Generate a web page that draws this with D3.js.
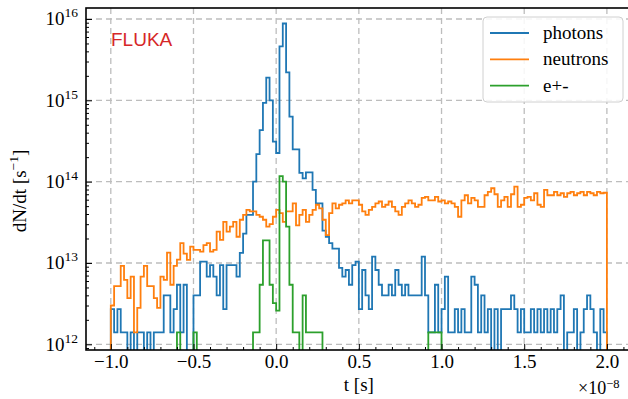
<!DOCTYPE html>
<html>
<head>
<meta charset="utf-8">
<script src="https://cdn.jsdelivr.net/npm/d3@7"></script>
<style>
  body { margin: 0; background: #fff; }
  svg { display: block; }
  .tick text { font-family: "Liberation Serif", "Times New Roman", serif; font-size: 19px; fill: #000; }
</style>
</head>
<body>
<div id="chart"></div>
<script>
// histogram binning (t in units of 1e-8 s)
const tStart = -1.0;
const binWidth = 0.02;

// dN/dt per bin, in units of 1e12 s^-1 (0 = empty bin)
const photons = [
  2.7, 1.4, 2.7, 1.4, 1.4, 0, 1.4, 0, 1.4, 1.4,
  0, 1.4, 0, 1.4, 1.4, 1.4, 4.0, 4.0, 1.4, 2.7,
  5.4, 1.4, 5.4, 0, 0, 4.0, 4.0, 10.4, 10.4, 6.8,
  9.4, 6.8, 4.0, 9.4, 2.7, 9.4, 9.4, 9.4, 6.8, 13.3,
  23, 39, 39, 100, 218, 430, 930, 1900, 1000, 310,
  225, 4600, 8800, 2200, 630, 250, 250, 128, 110, 130,
  130, 79, 54, 54, 25, 21, 17.5, 15, 15, 8.7,
  6.8, 8.2, 5.4, 9.4, 10.4, 2.7, 8.2, 4.0, 2.7, 12,
  8.2, 5.4, 4.0, 4.0, 5.4, 4.0, 8.2, 5.4, 4.0, 5.4,
  4.0, 4.0, 4.0, 4.0, 12, 4.0, 1.4, 1.4, 5.4, 1.4,
  2.7, 6.8, 1.4, 1.4, 2.7, 1.4, 2.7, 1.4, 1.4, 6.8,
  5.4, 1.4, 4.0, 1.4, 2.7, 0, 2.7, 0, 2.7, 2.7,
  2.7, 4.0, 2.7, 1.4, 2.7, 1.4, 1.4, 2.7, 1.4, 2.7,
  1.4, 2.7, 1.4, 2.7, 1.4, 2.7, 4.0, 0, 1.4, 1.4,
  2.7, 0, 1.4, 2.7, 4.0, 2.7, 1.4, 0, 2.7, 1.4
];

const neutrons = [
  3.0, 5.2, 5.2, 9.2, 6.2, 3.7, 6.8, 1.4, 2.8, 6.8,
  9.2, 5.2, 5.2, 3.7, 2.8, 6.8, 6.2, 13.4, 5.4, 9.2,
  11, 17.5, 13, 10.9, 15.9, 14.5, 14.5, 13.8, 16.6, 17.5,
  13.8, 14.5, 24.3, 19.2, 32, 24.3, 28, 32, 21, 34,
  39, 45, 43, 43, 39, 37, 34, 28, 30, 37,
  45, 41, 32, 43, 43, 54, 29, 39, 45, 32,
  39, 45, 52, 47, 34, 22, 41, 54, 47, 52,
  54, 59, 54, 59, 59, 52, 43, 39, 45, 49,
  54, 57, 49, 52, 57, 49, 43, 39, 49, 54,
  59, 54, 49, 52, 63, 65, 59, 59, 65, 57,
  59, 54, 57, 54, 49, 37, 59, 68, 54, 63,
  59, 49, 49, 68, 75, 83, 70, 49, 59, 65,
  49, 70, 87, 49, 52, 63, 65, 59, 72, 52,
  49, 79, 68, 68, 75, 68, 72, 65, 72, 75,
  68, 72, 75, 68, 75, 72, 68, 75, 72, 73
];

const electrons = [
  0, 0, 0, 0, 0, 0, 0, 0, 0, 0,
  0, 0, 0, 0, 0, 0, 0, 0, 0, 0,
  1.4, 0, 0, 0, 0, 1.4, 0, 0, 0, 0,
  0, 0, 0, 0, 0, 0, 0, 0, 0, 0,
  0, 0, 0, 1.4, 1.4, 5.4, 19, 19, 5.4, 3.2,
  2.6, 117, 100, 28, 5.4, 1.4, 1.4, 0, 4.0, 1.4,
  1.4, 1.4, 1.4, 1.4, 0, 0, 0, 0, 0, 0,
  0, 0, 0, 0, 0, 0, 0, 0, 0, 0,
  0, 0, 0, 0, 0, 0, 0, 0, 0, 0,
  0, 0, 0, 0, 0, 0, 1.4, 1.4, 1.4, 1.4,
  0, 0, 0, 0, 0, 0, 0, 0, 0, 0,
  0, 0, 0, 0, 0, 0, 0, 0, 0, 0,
  0, 0, 0, 0, 0, 0, 0, 0, 0, 0,
  0, 0, 0, 0, 0, 0, 0, 0, 0, 0,
  0, 0, 0, 0, 0, 0, 0, 0, 0, 0
];

const seriesNames = ["photons", "neutrons", "e+-"];
const seriesColors = ["#1f77b4", "#ff7f0e", "#2ca02c"];
const xTicks = [-1.0, -0.5, 0.0, 0.5, 1.0, 1.5, 2.0];
const yTicks = [1e12, 1e13, 1e14, 1e15, 1e16];
const unit = 1e12;

const margin = {top: 8, left: 86};
const width = 545.7;
const height = 342;
const serif = "'Liberation Serif', 'Times New Roman', serif";

const svg = d3.select("#chart")
  .append("svg")
  .attr("width", 628)
  .attr("height", 399)
  .append("g")
  .attr("transform", `translate(${margin.left}, ${margin.top})`);

const x = d3.scaleLinear()
  .domain([-1.15, 2.15])
  .range([0, width]);

const y = d3.scaleLog()
  .domain([Math.pow(10, 11.93), Math.pow(10, 16.135)])
  .range([height, 0]);

svg.append("defs").append("clipPath")
  .attr("id", "plot-area")
  .append("rect")
  .attr("width", width)
  .attr("height", height);

// grid
const grid = svg.append("g")
  .attr("stroke", "#bdbdbd")
  .attr("stroke-width", 1.3)
  .attr("stroke-dasharray", "6,4");

grid.selectAll(".gx")
  .data(xTicks)
  .enter().append("line")
  .attr("x1", d => x(d)).attr("x2", d => x(d))
  .attr("y1", 0).attr("y2", height);

grid.selectAll(".gy")
  .data(yTicks)
  .enter().append("line")
  .attr("x1", 0).attr("x2", width)
  .attr("y1", d => y(d)).attr("y2", d => y(d));

// step histograms
const edges = d3.range(photons.length + 1).map(i => tStart + i * binWidth);

const stepPoints = values => {
  const pts = [[edges[0], 0]];
  values.forEach((v, i) => {
    pts.push([edges[i], v]);
    pts.push([edges[i + 1], v]);
  });
  pts.push([edges[values.length], 0]);
  return pts;
};

const line = d3.line()
  .x(d => x(d[0]))
  .y(d => d[1] > 0 ? y(d[1] * unit) : height + 30);

svg.append("g")
  .attr("clip-path", "url(#plot-area)")
  .selectAll("path")
  .data([photons, neutrons, electrons])
  .enter().append("path")
  .attr("d", d => line(stepPoints(d)))
  .attr("fill", "none")
  .attr("stroke", (d, i) => seriesColors[i])
  .attr("stroke-width", 1.8);

// axes
const minorX = d3.range(-11, 22).map(i => i / 10).filter(v => Math.abs(v * 2 - Math.round(v * 2)) > 1e-6);
const minorY = [];
for (let e = 11; e <= 16; e++) {
  for (let m = 2; m <= 9; m++) {
    const v = m * Math.pow(10, e);
    if (v > y.domain()[0] && v < y.domain()[1]) minorY.push(v);
  }
}

svg.append("g")
  .attr("transform", `translate(0, ${height})`)
  .call(d3.axisBottom(x).tickValues(minorX).tickSize(-3).tickFormat(""))
  .call(g => g.select(".domain").remove());

svg.append("g")
  .call(d3.axisLeft(y).tickValues(minorY).tickSize(-3).tickFormat(""))
  .call(g => g.select(".domain").remove());

svg.append("g")
  .attr("transform", `translate(0, ${height})`)
  .call(d3.axisBottom(x).tickValues(xTicks).tickSize(-6).tickPadding(5).tickFormat(d3.format(".1f")))
  .call(g => g.select(".domain").remove());

const yAxis = svg.append("g")
  .call(d3.axisLeft(y).tickValues(yTicks).tickSize(-6).tickFormat(""))
  .call(g => g.select(".domain").remove());

yAxis.selectAll(".tick")
  .append("text")
  .attr("x", -8)
  .attr("y", 6)
  .attr("text-anchor", "end")
  .each(function (d) {
    const t = d3.select(this);
    t.append("tspan").text("10");
    t.append("tspan")
      .attr("dy", -8)
      .style("font-size", "13.5px")
      .text(Math.round(Math.log10(d)));
  });

svg.selectAll(".tick line").attr("stroke", "#000").attr("stroke-width", 1);

// frame
svg.append("rect")
  .attr("width", width)
  .attr("height", height)
  .attr("fill", "none")
  .attr("stroke", "#000")
  .attr("stroke-width", 1.6);

// labels
const yLabel = svg.append("text")
  .attr("transform", `translate(${-60}, ${height / 2 + 12}) rotate(-90)`)
  .attr("text-anchor", "middle")
  .style("font-family", serif)
  .style("font-size", "19px");
yLabel.append("tspan").text("dN/dt [s");
yLabel.append("tspan").attr("dy", -8).style("font-size", "13.5px").text("\u22121");
yLabel.append("tspan").attr("dy", 8).text("]");

svg.append("text")
  .attr("x", x(0.5))
  .attr("y", height + 41)
  .attr("text-anchor", "middle")
  .style("font-family", serif)
  .style("font-size", "19px")
  .text("t [s]");

const offset = svg.append("text")
  .attr("x", 492)
  .attr("y", height + 44)
  .style("font-family", serif)
  .style("font-size", "18px");
offset.append("tspan").text("\u00d710");
offset.append("tspan").attr("dy", -6).style("font-size", "12.5px").text("\u22128");

svg.append("text")
  .attr("x", 25)
  .attr("y", 38)
  .attr("fill", "#d62728")
  .style("font-family", "'Liberation Sans', Arial, sans-serif")
  .style("font-size", "19px")
  .text("FLUKA");

// legend
const legend = svg.append("g")
  .attr("transform", "translate(397, 9)");

legend.append("rect")
  .attr("width", 140)
  .attr("height", 85)
  .attr("rx", 4)
  .attr("fill", "#fff")
  .attr("fill-opacity", 0.85)
  .attr("stroke", "#d0d0d0")
  .attr("stroke-width", 1);

const item = legend.selectAll(".legend-item")
  .data(seriesNames)
  .enter().append("g")
  .attr("transform", (d, i) => `translate(0, ${16 + i * 26.3})`);

item.append("line")
  .attr("x1", 7).attr("x2", 46)
  .attr("stroke", (d, i) => seriesColors[i])
  .attr("stroke-width", 1.8);

item.append("text")
  .attr("x", 60)
  .attr("y", 6)
  .style("font-family", serif)
  .style("font-size", "19px")
  .text(d => d);
</script>
</body>
</html>
